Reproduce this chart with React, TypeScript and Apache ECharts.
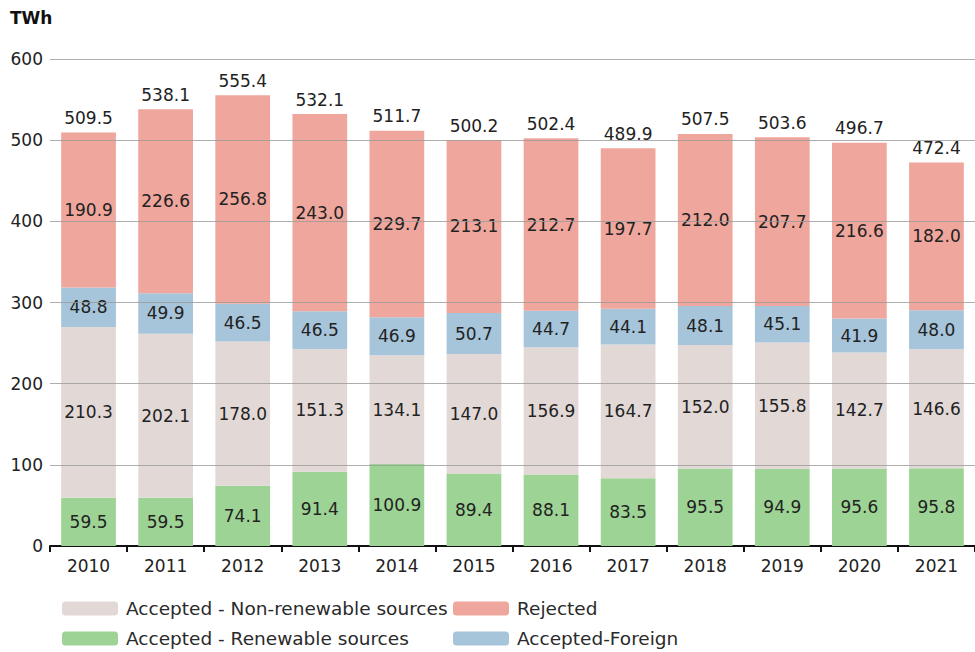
import React, { useEffect, useRef } from "react";
import * as echarts from "echarts";

const years = ["2010", "2011", "2012", "2013", "2014", "2015", "2016", "2017", "2018", "2019", "2020", "2021"];
const renewable = [59.5, 59.5, 74.1, 91.4, 100.9, 89.4, 88.1, 83.5, 95.5, 94.9, 95.6, 95.8];
const nonRenewable = [210.3, 202.1, 178.0, 151.3, 134.1, 147.0, 156.9, 164.7, 152.0, 155.8, 142.7, 146.6];
const foreign = [48.8, 49.9, 46.5, 46.5, 46.9, 50.7, 44.7, 44.1, 48.1, 45.1, 41.9, 48.0];
const rejected = [190.9, 226.6, 256.8, 243.0, 229.7, 213.1, 212.7, 197.7, 212.0, 207.7, 216.6, 182.0];
const totals = [509.5, 538.1, 555.4, 532.1, 511.7, 500.2, 502.4, 489.9, 507.5, 503.6, 496.7, 472.4];
const gridValues = [100, 200, 300, 400, 500, 600];

const FONT = "DejaVu Sans, Verdana, sans-serif";
const TXT = "#222";
const FS = 17;

export default function App() {
  const ref = useRef<HTMLDivElement>(null);
  useEffect(() => {
    document.body.style.margin = "0";
    if (!ref.current) return;
    const chart = echarts.init(ref.current, null, { renderer: "svg" });
    const insideLabel = {
      show: true,
      position: "inside",
      color: TXT,
      fontSize: FS,
      fontFamily: FONT,
      formatter: (p: any) => Number(p.value).toFixed(1),
    };
    const names = {
      nr: "Accepted - Non-renewable sources",
      r: "Accepted - Renewable sources",
      rej: "Rejected",
      f: "Accepted-Foreign",
    };
    const mkLegend = (name: string, left: number, top: number) => ({
      left,
      top,
      orient: "horizontal",
      itemWidth: 56,
      itemHeight: 14,
      padding: 0,
      data: [name],
      textStyle: { fontSize: 18.5, color: "#2a2a2a", fontFamily: FONT, padding: [0, 0, 0, 3] },
    });
    chart.setOption({
      animation: false,
      textStyle: { fontFamily: FONT },
      grid: { left: 50, right: 0, top: 59, bottom: 106, containLabel: false, outerBoundsMode: "none" },
      graphic: [
        {
          type: "text",
          left: 10,
          top: 9,
          style: { text: "TWh", fontSize: 17, fontWeight: "bold", fill: "#111", fontFamily: FONT },
        },
      ],
      legend: [
        mkLegend(names.nr, 62, 599),
        mkLegend(names.r, 62, 629),
        mkLegend(names.rej, 453, 599),
        mkLegend(names.f, 453, 629),
      ],
      xAxis: {
        type: "category",
        data: years,
        axisLine: { lineStyle: { color: "#111", width: 2 } },
        axisTick: { show: true, length: 6, lineStyle: { color: "#111", width: 2 } },
        axisLabel: { fontSize: FS, color: TXT, fontFamily: FONT, margin: 11 },
      },
      yAxis: {
        type: "value",
        min: 0,
        max: 600,
        interval: 100,
        axisLine: { show: false },
        axisTick: { show: false },
        splitLine: { show: false },
        axisLabel: { fontSize: FS, color: TXT, fontFamily: FONT, margin: 7 },
      },
      series: [
        {
          name: names.r,
          type: "bar",
          stack: "t",
          barWidth: "71%",
          data: renewable,
          itemStyle: { color: "#9dd394" },
          label: insideLabel,
        },
        {
          name: names.nr,
          type: "bar",
          stack: "t",
          data: nonRenewable,
          itemStyle: { color: "#e2d9d7" },
          label: insideLabel,
        },
        {
          name: names.f,
          type: "bar",
          stack: "t",
          data: foreign,
          itemStyle: { color: "#a6c4da" },
          label: insideLabel,
        },
        {
          name: names.rej,
          type: "bar",
          stack: "t",
          data: rejected,
          itemStyle: { color: "#efa69c" },
          label: insideLabel,
          markLine: {
            silent: true,
            symbol: "none",
            label: { show: false },
            lineStyle: { color: "#9a9a9a", width: 1, type: "solid", opacity: 0.8 },
            data: gridValues.map((v) => ({ yAxis: v })),
            z: 10,
          },
        },
        {
          name: "total",
          type: "bar",
          stack: "t",
          data: totals.map(() => 0),
          itemStyle: { color: "transparent" },
          label: {
            show: true,
            position: "top",
            distance: 6,
            color: TXT,
            fontSize: FS,
            fontFamily: FONT,
            formatter: (p: any) => totals[p.dataIndex].toFixed(1),
          },
        },
      ],
    });
    return () => chart.dispose();
  }, []);
  return <div ref={ref} style={{ width: 975, height: 652 }} />;
}
